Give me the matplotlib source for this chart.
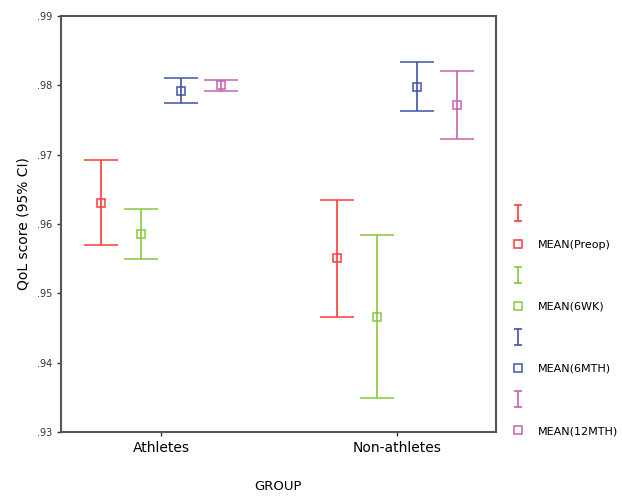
import matplotlib
matplotlib.use("Agg")
import matplotlib.pyplot as plt
from matplotlib.lines import Line2D
from matplotlib.path import Path
import numpy as np

groups = ["Athletes", "Non-athletes"]
series = ["Preop", "6WK", "6MTH", "12MTH"]
colors = ["#ff3b3b", "#86c840", "#4152a8", "#c862b0"]

# mean, lower CI, upper CI per series, for [Athletes, Non-athletes]
means = {
    "Preop": [0.9630, 0.9551],
    "6WK": [0.9586, 0.9466],
    "6MTH": [0.9792, 0.9797],
    "12MTH": [0.9800, 0.9771],
}
lower = {
    "Preop": [0.9570, 0.9466],
    "6WK": [0.9550, 0.9349],
    "6MTH": [0.9774, 0.9763],
    "12MTH": [0.9792, 0.9722],
}
upper = {
    "Preop": [0.9692, 0.9635],
    "6WK": [0.9622, 0.9584],
    "6MTH": [0.9810, 0.9833],
    "12MTH": [0.9808, 0.9821],
}
yticks = [0.93, 0.94, 0.95, 0.96, 0.97, 0.98, 0.99]
ytick_labels = [".93", ".94", ".95", ".96", ".97", ".98", ".99"]

fig = plt.figure(figsize=(6.22, 4.96), dpi=100)
ax = fig.add_axes([0.098, 0.129, 0.699, 0.839])

x = np.array([1.0, 2.0])
offsets = [-0.255, -0.085, 0.085, 0.255]
for name, color, off in zip(series, colors, offsets):
    m = np.array(means[name])
    lo = m - np.array(lower[name])
    hi = np.array(upper[name]) - m
    ax.errorbar(x + off, m, yerr=[lo, hi], fmt="s", color=color,
                mfc="none", mec=color, markersize=6, mew=1.1,
                elinewidth=1.2, capsize=12.3, capthick=1.2)

ax.set_xlim(0.576, 2.42)
ax.set_ylim(0.93, 0.99)
ax.set_xticks(x)
ax.set_xticklabels(groups, fontsize=10)
ax.set_yticks(yticks)
ax.set_yticklabels(ytick_labels, fontsize=7, color="#333333")
ax.set_ylabel("QoL score (95% CI)", fontsize=10)
ax.set_xlabel("GROUP", fontsize=9.5, labelpad=18)
for sp in ax.spines.values():
    sp.set_color("#555555")
    sp.set_linewidth(1.5)
ax.tick_params(axis="both", direction="out", length=3, color="#333333", width=1)

i_path = Path([(-0.5, 1), (0.5, 1), (0, 1), (0, -1), (-0.5, -1), (0.5, -1)],
              [Path.MOVETO, Path.LINETO, Path.MOVETO, Path.LINETO, Path.MOVETO, Path.LINETO])
handles = []
labels = []
for name, color in zip(series, colors):
    handles.append(Line2D([], [], linestyle="none", marker=i_path, markersize=12,
                          color=color, mec=color, mew=1.2))
    labels.append(" ")
    handles.append(Line2D([], [], linestyle="none", marker="s", markersize=6,
                          mfc="none", mec=color, mew=1.1))
    labels.append(f"MEAN({name})")

fig.legend(handles, labels, loc="upper left", bbox_to_anchor=(0.808, 0.6),
           frameon=False, fontsize=8, labelspacing=1.9, handlelength=0.9,
           handletextpad=1.4)

fig.savefig("out.png", dpi=100)
